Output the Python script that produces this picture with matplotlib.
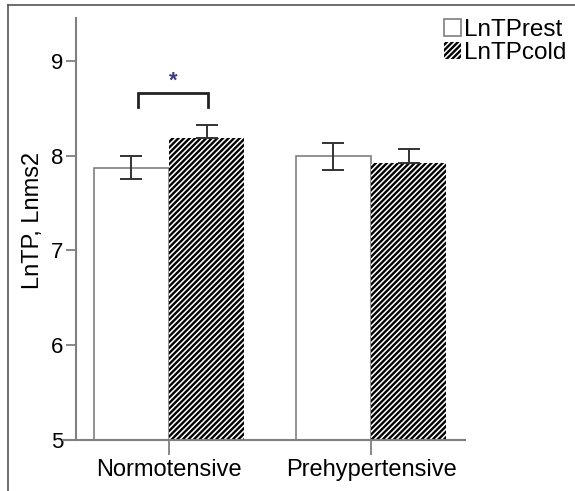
import matplotlib
matplotlib.use("Agg")
import matplotlib.pyplot as plt
from matplotlib.patches import Patch
import numpy as np

plt.rcParams['font.family'] = ['Liberation Sans', 'DejaVu Sans']
plt.rcParams['hatch.linewidth'] = 1.7

groups = ["Normotensive", "Prehypertensive"]
rest_vals = [7.87, 7.99]
rest_err = [0.12, 0.14]
cold_vals = [8.18, 7.92]
cold_err = [0.14, 0.15]
yticks = [5, 6, 7, 8, 9]

W, H = 575, 491
fig = plt.figure(figsize=(W/100, H/100), dpi=100)
ax = fig.add_axes([76/W, 1-440/H, (465-76)/W, (440-18)/H])

x = np.arange(len(groups))
bw = 0.373
gray = '#7f7f7f'
ecol = '#333333'

ax.bar(x - bw/2, rest_vals, bw, facecolor='white', edgecolor=gray, linewidth=1.2, zorder=2)
ax.bar(x + bw/2, cold_vals, bw, facecolor='white', edgecolor='black', hatch='//////', linewidth=0, zorder=2)
ax.errorbar(x - bw/2, rest_vals, yerr=rest_err, fmt='none', ecolor=ecol, elinewidth=1.4, capsize=8, capthick=1.4, zorder=3)
ax.errorbar(x + bw/2, cold_vals, yerr=[[0, 0], cold_err], fmt='none', ecolor=ecol, elinewidth=1.4, capsize=8, capthick=1.4, zorder=3)

# significance bracket
bx0 = (138 - 169) / 202
bx1 = (208 - 169) / 202
ax.plot([bx0, bx0, bx1, bx1], [8.51, 8.66, 8.66, 8.51], color='#222222', lw=2, zorder=3, solid_joinstyle='miter')
ax.text((bx0 + bx1) / 2, 8.78, '*', ha='center', va='center', fontsize=16, color='#3b3b80', fontweight='bold')

ax.set_ylim(5, 9.45)
ax.set_xlim(-0.46, 1.465)
ax.set_yticks(yticks)
ax.set_xticks(x)
ax.set_xticklabels(groups, fontsize=17)
ax.tick_params(axis='y', labelsize=16, length=7, width=1.3, color=gray, pad=2)
ax.tick_params(axis='x', length=11, width=1.3, color=gray, pad=3)
ax.set_ylabel('LnTP, Lnms2', fontsize=17)
ax.yaxis.set_label_coords((44 - 76) / (465 - 76), (440 - 220) / (440 - 18))
for s in ['top', 'right']:
    ax.spines[s].set_visible(False)
for s in ['left', 'bottom']:
    ax.spines[s].set_color(gray)
    ax.spines[s].set_linewidth(1.5)
ax.spines['bottom'].set_bounds(-0.46 - 13/202, 1.465)

handles = [Patch(facecolor='white', edgecolor=gray, linewidth=1.2, label='LnTPrest'),
           Patch(facecolor='white', edgecolor='black', hatch='//////', linewidth=0, label='LnTPcold')]
leg = fig.legend(handles=handles, loc='upper right', bbox_to_anchor=(566/W, 1-19/H), frameon=False,
                 fontsize=17.5, handlelength=0.7, handleheight=0.7, handletextpad=0.1, labelspacing=0.05,
                 borderaxespad=0, borderpad=0)

# figure frame (left and top)
fig.add_artist(plt.Line2D([8/W, 8/W], [0, 1-5/H], transform=fig.transFigure, color='#555555', lw=1.2))
fig.add_artist(plt.Line2D([8/W, 1], [1-5/H, 1-5/H], transform=fig.transFigure, color='#555555', lw=1.2))

fig.savefig('out.png', dpi=100)
